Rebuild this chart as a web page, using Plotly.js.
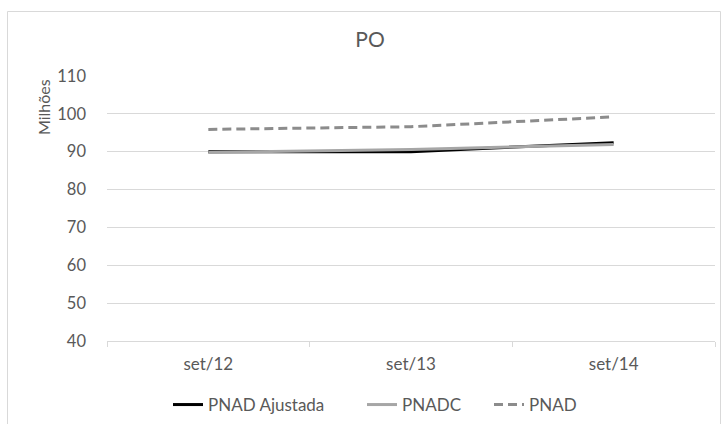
<!DOCTYPE html>
<html>
<head>
<meta charset="utf-8">
<script src="https://cdn.plot.ly/plotly-3.0.1.min.js"></script>
<style>
  html, body { margin: 0; padding: 0; background: #fff; }
  #chart { width: 724px; height: 424px; }
</style>
</head>
<body>
<div id="chart"></div>
<script>
const categories = ['set/12', 'set/13', 'set/14'];
const pnadAjustada = [90.0, 90.0, 92.4];
const pnadc = [89.8, 90.6, 91.9];
const pnad = [95.9, 96.6, 99.2];
const yTicks = [40, 50, 60, 70, 80, 90, 100, 110];

const xs = categories.map((_, i) => i);
const W = 724, H = 424;
const M = { l: 107, r: 9, t: 76, b: 83 };
const pw = W - M.l - M.r, ph = H - M.t - M.b;
const px = v => (v - M.l) / pw;
const py = v => 1 - (v - M.t) / ph;

const font = 'Lato, "Open Sans", "Liberation Sans", sans-serif';
const txt = '#595959';

const traces = [
  { x: xs, y: pnadAjustada, name: 'PNAD Ajustada', mode: 'lines', legend: 'legend',
    line: { color: '#000000', width: 3 } },
  { x: xs, y: pnadc, name: 'PNADC', mode: 'lines', legend: 'legend2',
    line: { color: '#a6a6a6', width: 3 } },
  { x: xs, y: pnad, name: 'PNAD', mode: 'lines', legend: 'legend3',
    line: { color: '#8c8c8c', width: 3, dash: '9px,5px' } }
];

const legBase = { orientation: 'h', xanchor: 'left', yanchor: 'middle',
                  xref: 'container', yref: 'container', y: 1 - 405 / H,
                  font: { size: 17, color: txt }, itemwidth: 30, bgcolor: 'rgba(0,0,0,0)' };

const layout = {
  width: W, height: H,
  margin: M,
  paper_bgcolor: '#fff', plot_bgcolor: '#fff',
  font: { family: font, size: 16, color: txt },
  title: { text: 'PO', x: 370 / W, xanchor: 'center', y: 1 - 40 / H, yanchor: 'middle',
           font: { family: font, size: 21, color: txt } },
  showlegend: true,
  legend: Object.assign({}, legBase, { x: 168 / W }),
  legend2: Object.assign({}, legBase, { x: 362 / W }),
  legend3: Object.assign({}, legBase, { x: 489 / W }),
  xaxis: {
    range: [-0.5, 2.5], tickvals: xs, ticktext: categories, automargin: false,
    showgrid: false, zeroline: false, showline: true, linecolor: '#d9d9d9', linewidth: 1,
    ticks: '', ticklabelstandoff: 8, tickfont: { size: 17, color: txt },
    minor: { tick0: 0.5, dtick: 1, ticks: 'outside', ticklen: 5, tickcolor: '#d9d9d9', showgrid: false },
    fixedrange: true
  },
  yaxis: {
    range: [40, 110], tickvals: yTicks, automargin: false,
    showgrid: true, gridcolor: '#d9d9d9', gridwidth: 1, zeroline: false,
    showline: false, ticks: '', ticklabelstandoff: 20,
    tickfont: { size: 16.5, color: txt }, fixedrange: true
  },
  annotations: [
    { text: 'Milhões', xref: 'paper', yref: 'paper', x: px(43), y: py(107),
      xanchor: 'center', yanchor: 'middle', textangle: -90, showarrow: false,
      font: { size: 16, color: txt } }
  ],
  shapes: [
    { type: 'rect', xref: 'paper', yref: 'paper', x0: px(7.5), x1: px(720.5), y0: py(430), y1: py(11.5),
      line: { color: '#d9d9d9', width: 1 }, fillcolor: 'rgba(0,0,0,0)', layer: 'below' }
  ]
};

Plotly.newPlot('chart', traces, layout, { displayModeBar: false, staticPlot: true });
</script>
</body>
</html>
